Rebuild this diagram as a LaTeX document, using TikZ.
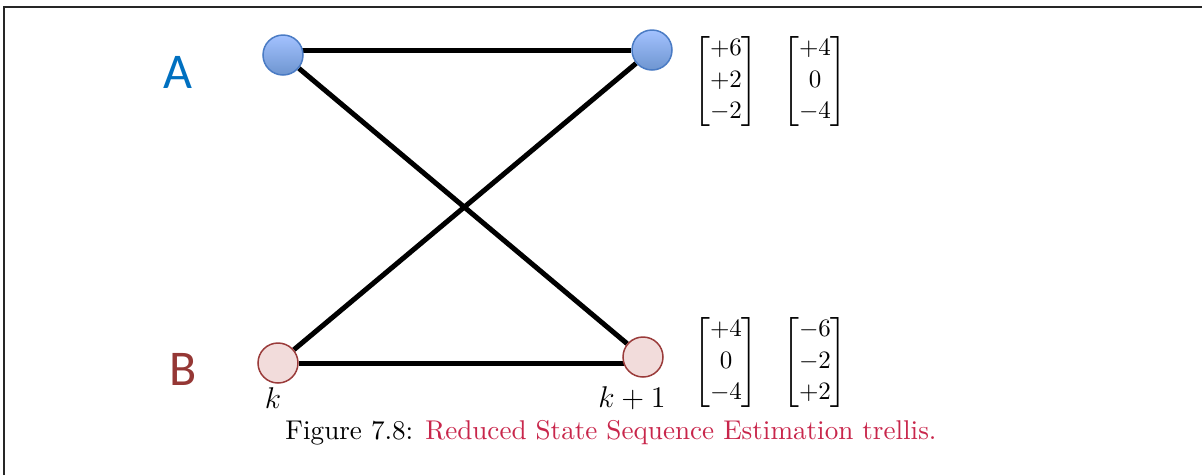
\documentclass[tikz,border=0pt]{standalone}
\usepackage{amsmath,amssymb}
\usepackage{fontspec}
\newfontfamily\lblfont{Carlito}
\usepackage{xcolor}
\usetikzlibrary{backgrounds}
\definecolor{stblue}{HTML}{0070C0}
\definecolor{stred}{HTML}{953735}
\definecolor{capred}{HTML}{C8264B}
\definecolor{ringblue}{HTML}{4A7BC4}
\definecolor{ringred}{HTML}{9A3B3A}
\definecolor{fillred}{HTML}{F2DCDB}
\newcommand{\cvec}[3]{{\renewcommand{\arraystretch}{1.05}%
  \left[\begin{array}{@{}c@{}}#1\\#2\\#3\end{array}\right]}}

\begin{document}
\begin{tikzpicture}[x=0.4pt,y=-0.4pt,
    st/.style={circle,line width=0.6pt,minimum size=16pt,inner sep=0pt},
    sa/.style={st,draw=ringblue,top color=blue!25!cyan!20!white!80!blue,
               bottom color=ringblue!80!white},
    sb/.style={st,draw=ringred,fill=fillred},
    lbl/.style={font=\lblfont\fontsize{20}{24}\selectfont},
    vec/.style={font=\normalsize,inner sep=0pt},
    lnk/.style={line width=2pt,black}]
  \useasboundingbox (0,0) rectangle (1202,475);
  \draw[line width=0.8pt,black!85] (4,475) -- (4,7) -- (1202,7);

  \node[lbl,text=stblue] (la) at (178,72) {A};
  \node[lbl,text=stred] (lb) at (183,369) {B};

  \node[sa] (Ak)  at (283,55) {};
  \node[sa] (Ak1) at (652,50) {};
  \node[sb] (Bk)  at (278,363) {};
  \node[sb] (Bk1) at (643,357) {};

  \begin{scope}[on background layer]
    \draw[lnk] (Ak1 -| Ak) -- (Ak1);
    \draw[lnk] (Bk) -- (Bk -| Bk1);
    \draw[lnk] (Ak) -- (Bk1);
    \draw[lnk] (Bk) -- (Ak1);
  \end{scope}

  \node[font=\large] (tk)  at (273,398) {$k$};
  \node[font=\large] (tk1) at (632,398) {$k+1$};

  \node[vec] (va1) at (726,81)  {$\cvec{+6}{+2}{-2}$};
  \node[vec] (va2) at (815,81)  {$\cvec{+4}{0}{-4}$};
  \node[vec] (vb1) at (726,362) {$\cvec{+4}{0}{-4}$};
  \node[vec] (vb2) at (815,362) {$\cvec{-6}{-2}{+2}$};

  \node[font=\fontsize{10.85}{13}\selectfont] (cap) at (611,433)
    {Figure 7.8: \textcolor{capred}{Reduced State Sequence Estimation trellis.}};
\end{tikzpicture}
\end{document}
